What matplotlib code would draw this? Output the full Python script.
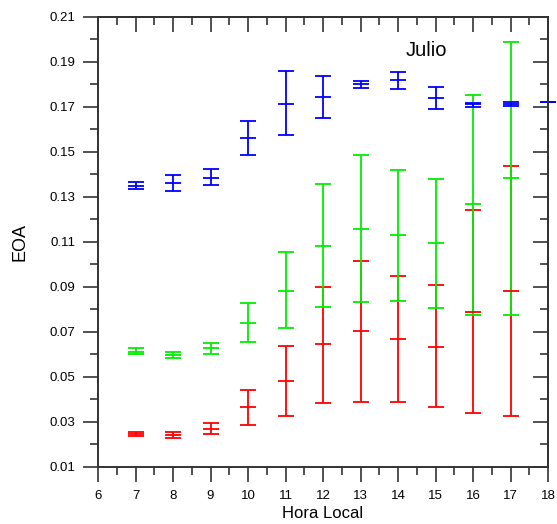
import matplotlib
matplotlib.use("Agg")
import matplotlib.pyplot as plt
from matplotlib.ticker import MultipleLocator, FixedLocator, FormatStrFormatter

plt.rcParams['font.family'] = ['Liberation Sans', 'DejaVu Sans']

# Data (hour, center, lower, upper)
hours_blue = [7, 8, 9, 10, 11, 12, 13, 14, 15, 16, 17, 18]
blue_c = [0.1350, 0.1364, 0.1386, 0.1564, 0.1715, 0.1744, 0.1802, 0.1819, 0.1739, 0.1712, 0.1712, 0.1722]
blue_lo = [0.1334, 0.1328, 0.1352, 0.1488, 0.1574, 0.1652, 0.1786, 0.1779, 0.1692, 0.1701, 0.1704, 0.1722]
blue_hi = [0.1368, 0.1398, 0.1426, 0.1636, 0.1859, 0.1839, 0.1816, 0.1857, 0.1790, 0.1719, 0.1720, 0.1722]

hours = [7, 8, 9, 10, 11, 12, 13, 14, 15, 16, 17]
green_c = [0.0611, 0.0596, 0.0630, 0.0741, 0.0884, 0.1084, 0.1158, 0.1130, 0.1097, 0.1268, 0.1386]
green_lo = [0.0601, 0.0583, 0.0601, 0.0657, 0.0719, 0.0811, 0.0835, 0.0839, 0.0805, 0.0777, 0.0777]
green_hi = [0.0630, 0.0612, 0.0652, 0.0827, 0.1057, 0.1359, 0.1488, 0.1421, 0.1381, 0.1755, 0.1989]

red_c = [0.0247, 0.0242, 0.0270, 0.0367, 0.0481, 0.0647, 0.0703, 0.0669, 0.0633, 0.0789, 0.0884]
red_lo = [0.0236, 0.0230, 0.0247, 0.0287, 0.0328, 0.0384, 0.0389, 0.0389, 0.0367, 0.0339, 0.0327]
red_hi = [0.0254, 0.0254, 0.0294, 0.0441, 0.0639, 0.0901, 0.1016, 0.0948, 0.0908, 0.1244, 0.1438]

fig = plt.figure(figsize=(5.57, 5.24), dpi=100)
ax = fig.add_axes([0.176, 0.1088, 0.808, 0.8588])

def draw(x, c, lo, hi, color):
    yerr = [[ci - l for ci, l in zip(c, lo)], [h - ci for ci, h in zip(c, hi)]]
    ax.errorbar(x, c, yerr=yerr, fmt='_', color=color, ecolor=color,
                markersize=11, markeredgewidth=1.3, elinewidth=1.3,
                capsize=5.5, capthick=1.3, clip_on=False)

draw(hours, red_c, red_lo, red_hi, '#ff0000')
draw(hours, green_c, green_lo, green_hi, '#00ee00')
draw(hours_blue, blue_c, blue_lo, blue_hi, '#0000ff')

ax.set_xlim(6, 18)
ax.set_ylim(0.01, 0.21)
ax.xaxis.set_major_locator(MultipleLocator(1))
ax.xaxis.set_minor_locator(MultipleLocator(0.5))
ax.yaxis.set_major_locator(FixedLocator([0.01 + 0.02 * i for i in range(11)]))
ax.yaxis.set_minor_locator(FixedLocator([0.02 + 0.02 * i for i in range(10)]))
ax.yaxis.set_major_formatter(FormatStrFormatter('%.2f'))

for s in ax.spines.values():
    s.set_linewidth(1.4)
    s.set_color('#333333')

ax.tick_params(axis='both', which='major', length=11, width=1.2, color='#333333',
               labelsize=9.5, direction='out', pad=5.5)
ax.tick_params(axis='both', which='minor', length=5.5, width=1.2, color='#333333',
               direction='out')

# Top and right inward ticks without labels
axt = ax.secondary_xaxis('top')
axt.xaxis.set_major_locator(MultipleLocator(1))
axt.xaxis.set_minor_locator(MultipleLocator(0.5))
axt.tick_params(which='major', direction='in', length=11, width=1.2, color='#333333', labeltop=False)
axt.tick_params(which='minor', direction='in', length=5.5, width=1.2, color='#333333')
axt.spines['top'].set_linewidth(1.4)
axt.spines['top'].set_color('#333333')

axr = ax.secondary_yaxis('right')
axr.yaxis.set_major_locator(FixedLocator([0.01 + 0.02 * i for i in range(11)]))
axr.yaxis.set_minor_locator(FixedLocator([0.02 + 0.02 * i for i in range(10)]))
axr.tick_params(which='major', direction='in', length=11, width=1.2, color='#333333', labelright=False)
axr.tick_params(which='minor', direction='in', length=5.5, width=1.2, color='#333333')
axr.spines['right'].set_linewidth(1.4)
axr.spines['right'].set_color('#333333')

ax.set_xlabel('Hora Local', fontsize=12, labelpad=3)
ax.set_ylabel('EOA', fontsize=13, labelpad=15)
ax.text(0.73, 0.925, 'Julio', transform=ax.transAxes, fontsize=14.5, ha='center', va='center')

fig.savefig('out.png', dpi=100)
